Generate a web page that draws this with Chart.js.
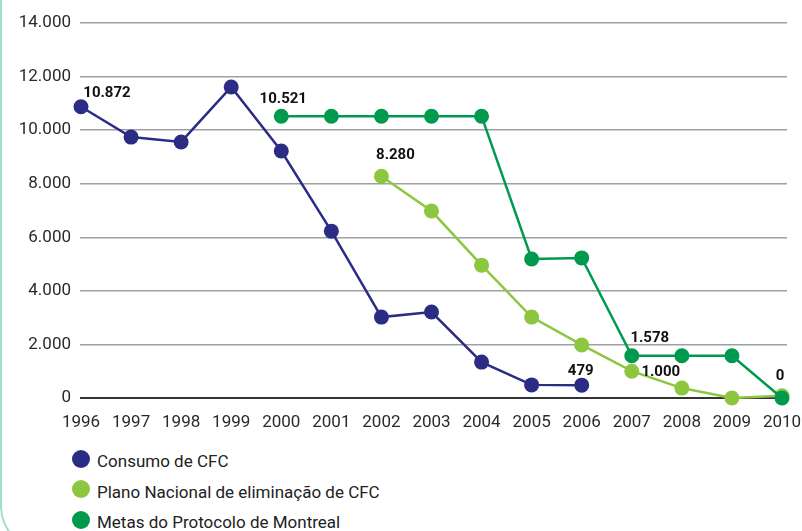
<!DOCTYPE html>
<html>
<head>
<meta charset="utf-8">
<script src="https://cdn.jsdelivr.net/npm/chart.js@4.4.1/dist/chart.umd.min.js"></script>
<style>
  html, body { margin: 0; padding: 0; background: #fff; }
  body { width: 802px; height: 531px; position: relative; overflow: hidden; font-family: Roboto, sans-serif; }
  #frame {
    position: absolute; left: 0; top: -10px; width: 900px; height: 562px;
    border-left: 2px solid #a3dfc6; border-bottom: 2.5px solid #0a9b50;
    border-bottom-left-radius: 46px; box-sizing: border-box;
  }
  #wrap { position: absolute; left: 0; top: 0; width: 802px; height: 431px; }
  #legend { position: absolute; left: 72px; top: 446px; }
  #legend .item { height: 30.5px; display: flex; align-items: center; font-size: 17px; color: #222; }
  #legend .dot { width: 18px; height: 18px; border-radius: 50%; margin-right: 7px; margin-top: -5px; }
</style>
</head>
<body>
<div id="frame"></div>
<div id="wrap"><canvas id="cfcChart"></canvas></div>
<div id="legend"></div>
<script>
var years = [1996, 1997, 1998, 1999, 2000, 2001, 2002, 2003, 2004, 2005, 2006, 2007, 2008, 2009, 2010];

var consumo = [10872, 9740, 9560, 11610, 9220, 6230, 3020, 3210, 1340, 490, 479, null, null, null, null];
var plano = [null, null, null, null, null, null, 8280, 6980, 4960, 3020, 1980, 1000, 370, 0, 80];
var metas = [null, null, null, null, 10521, 10521, 10521, 10521, 10521, 5190, 5230, 1578, 1578, 1578, 0];

var seriesNames = ['Consumo de CFC', 'Plano Nacional de eliminação de CFC', 'Metas do Protocolo de Montreal'];
var seriesColors = ['#2b2d85', '#8dc63f', '#009a4e'];
var drawOrder = [2, 1, 0];

// value labels: [dataset, year, text, dx, dy]
var valueLabels = [
  [0, 1996, '10.872', 26, -14],
  [2, 2000, '10.521', 2, -17],
  [1, 2002, '8.280', 14, -21],
  [0, 2006, '479', -1, -14],
  [2, 2007, '1.578', 18, -17],
  [1, 2007, '1.000', 29, 1],
  [2, 2010, '0', -2, -22]
];

function toPoints(vals) {
  var pts = [];
  vals.forEach(function(v, i) {
    if (v !== null) pts.push({ x: years[i], y: v });
  });
  return pts;
}

function fmt(n) {
  return String(n).replace(/\B(?=(\d{3})+(?!\d))/g, '.');
}

var labelPlugin = {
  id: 'valueLabels',
  afterDatasetsDraw: function(chart) {
    var c = chart.ctx;
    var xs = chart.scales.x, ys = chart.scales.y;
    var all = [consumo, plano, metas];
    c.save();
    c.font = 'bold 15px Roboto';
    c.fillStyle = '#111';
    c.textAlign = 'center';
    c.textBaseline = 'middle';
    valueLabels.forEach(function(l) {
      var v = all[l[0]][years.indexOf(l[1])];
      c.fillText(l[2], xs.getPixelForValue(l[1]) + l[3], ys.getPixelForValue(v) + l[4]);
    });
    c.restore();
  }
};

var ctx = document.getElementById('cfcChart').getContext('2d');
var myChart = new Chart(ctx, {
  type: 'line',
  data: {
    datasets: [consumo, plano, metas].map(function(vals, i) {
      return {
        label: seriesNames[i],
        data: toPoints(vals),
        order: drawOrder[i],
        borderColor: seriesColors[i],
        backgroundColor: seriesColors[i],
        borderWidth: 2.5,
        pointRadius: 7.5,
        pointHoverRadius: 7.5,
        pointBorderWidth: 0,
        tension: 0,
        clip: false
      };
    })
  },
  options: {
    responsive: true,
    maintainAspectRatio: false,
    animation: false,
    layout: { padding: { top: 23, right: 15, left: 0, bottom: 0 } },
    plugins: {
      legend: { display: false },
      tooltip: { enabled: false }
    },
    scales: {
      x: {
        type: 'linear',
        min: 1995.98,
        max: 2010.1,
        grid: { display: false },
        border: { display: false },
        afterFit: function(scale) {
          scale.height = 33;
          scale.paddingLeft = 0;
          scale.paddingRight = 0;
        },
        afterBuildTicks: function(scale) {
          scale.ticks = years.map(function(y) { return { value: y }; });
        },
        ticks: {
          autoSkip: false,
          maxRotation: 0,
          padding: 7,
          color: '#2a2a2a',
          font: { family: 'Roboto', size: 17 },
          callback: function(v) { return String(v); }
        }
      },
      y: {
        min: 0,
        max: 14000,
        afterFit: function(scale) { scale.width = 80; },
        border: { display: false },
        grid: {
          drawTicks: false,
          color: function(c) { return c.tick.value === 0 ? '#333' : '#a0a0a0'; },
          lineWidth: function(c) { return c.tick.value === 0 ? 2 : 1.5; }
        },
        ticks: {
          stepSize: 2000,
          padding: 9,
          color: '#2a2a2a',
          font: { family: 'Roboto', size: 17 },
          callback: function(v) { return fmt(v); }
        }
      }
    }
  },
  plugins: [labelPlugin]
});

// legend rows
var legend = document.getElementById('legend');
seriesNames.forEach(function(name, i) {
  var row = document.createElement('div');
  row.className = 'item';
  row.innerHTML = '<span class="dot" style="background:' + seriesColors[i] + '"></span><span>' + name + '</span>';
  legend.appendChild(row);
});
</script>
</body>
</html>
